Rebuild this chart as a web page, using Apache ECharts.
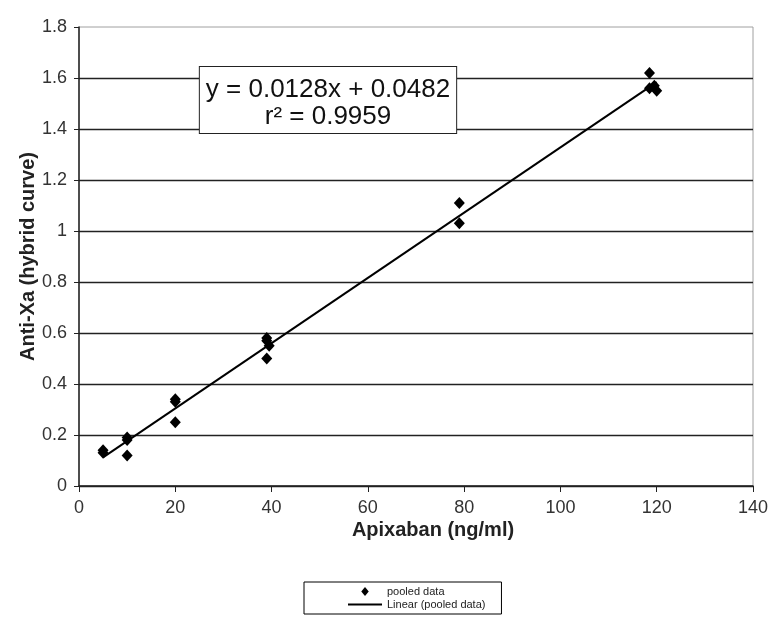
<!DOCTYPE html>
<html>
<head>
<meta charset="utf-8">
<script src="https://cdn.jsdelivr.net/npm/echarts@6/dist/echarts.min.js"></script>
<style>
    html, body { margin: 0; padding: 0; background: #fff; }
    #chart { width: 781px; height: 623px; }
</style>
</head>
<body>
<div id="chart"></div>
<script>
// pooled data
var pooledX = [5, 5, 10, 10, 10, 20, 20, 20, 39, 39, 39.5, 39, 79, 79, 118.5, 118.5, 119.5, 120];
var pooledY = [0.14, 0.13, 0.19, 0.18, 0.12, 0.34, 0.33, 0.25, 0.58, 0.57, 0.55, 0.50, 1.11, 1.03, 1.62, 1.56, 1.57, 1.55];
// linear trend line end points
var trendX = [5, 120];
var trendY = [0.112, 1.584];
var equationText = "y = 0.0128x + 0.0482\nr\u00b2 = 0.9959";

var FONT = "'Liberation Sans', Arial, sans-serif";

var chart = {
    init : function() {
        var myChart = echarts.init(document.getElementById('chart'));
        myChart.setOption(this.buildOption());
    },
    /**
     * build option from the arrays above
     */
    buildOption : function() {
        var scatterData = [];
        for (var i = 0; i < pooledX.length; i++) {
            scatterData.push([pooledX[i], pooledY[i]]);
        }
        var lineData = [];
        for (var j = 0; j < trendX.length; j++) {
            lineData.push([trendX[j], trendY[j]]);
        }
        return {
            animation : false,
            backgroundColor : '#fff',
            textStyle : { fontFamily : FONT },
            grid : {
                left : 79,
                right : 28,
                top : 27,
                bottom : 137,
                show : true,
                borderColor : '#a0a0a0',
                borderWidth : 1
            },
            legend : {
                orient : 'vertical',
                left : 304,
                top : 582,
                padding : [4, 16, 4, 44],
                itemWidth : 34,
                itemHeight : 9,
                itemGap : 2,
                symbolKeepAspect : true,
                borderColor : '#000',
                borderWidth : 1,
                textStyle : { fontSize : 11, color : '#222', fontFamily : FONT },
                data : [ {
                    name : 'pooled data',
                    icon : 'path://M5,0 L10,6 L5,12 L0,6 Z'
                }, {
                    name : 'Linear (pooled data)',
                    icon : 'path://M0,0 L34,0 L34,2 L0,2 Z'
                } ]
            },
            xAxis : {
                type : 'value',
                min : 0,
                max : 140,
                interval : 20,
                name : 'Apixaban (ng/ml)',
                nameLocation : 'middle',
                nameGap : 34,
                nameMoveOverlap : false,
                nameTextStyle : { fontSize : 20, fontWeight : 'bold', color : '#222', padding : [0, 0, 0, 34] },
                axisLine : { lineStyle : { color : '#222', width : 1.5 } },
                axisTick : { show : true, length : 6, lineStyle : { color : '#222' } },
                axisLabel : { fontSize : 18, color : '#333', margin : 13 },
                splitLine : { show : false }
            },
            yAxis : {
                type : 'value',
                min : 0,
                max : 1.8,
                interval : 0.2,
                name : 'Anti-Xa (hybrid curve)',
                nameLocation : 'middle',
                nameGap : 41,
                nameMoveOverlap : false,
                nameTextStyle : { fontSize : 20, fontWeight : 'bold', color : '#222' },
                axisLine : { show : true, lineStyle : { color : '#222', width : 1.5 } },
                axisTick : { show : true, length : 5, lineStyle : { color : '#222' } },
                axisLabel : {
                    fontSize : 18,
                    color : '#333',
                    margin : 12,
                    formatter : function(v) {
                        return String(Math.round(v * 10) / 10);
                    }
                },
                splitLine : { show : true, showMaxLine : false, lineStyle : { color : '#222', width : 1.3 } }
            },
            graphic : [ {
                type : 'text',
                x : 328,
                y : 67,
                z : 100,
                style : {
                    text : equationText,
                    font : '26px ' + FONT,
                    fill : '#111',
                    align : 'center',
                    verticalAlign : 'top',
                    lineHeight : 27,
                    backgroundColor : '#fff',
                    borderColor : '#222',
                    borderWidth : 1,
                    padding : [9, 6, 3, 6]
                }
            } ],
            series : [ {
                name : 'pooled data',
                type : 'scatter',
                symbol : 'diamond',
                symbolSize : [11, 12],
                itemStyle : { color : '#000', opacity : 1 },
                z : 3,
                data : scatterData
            }, {
                name : 'Linear (pooled data)',
                type : 'line',
                symbol : 'none',
                itemStyle : { color : '#000' },
                lineStyle : { color : '#000', width : 2 },
                z : 4,
                data : lineData
            } ]
        };
    }
};
chart.init();
</script>
</body>
</html>
